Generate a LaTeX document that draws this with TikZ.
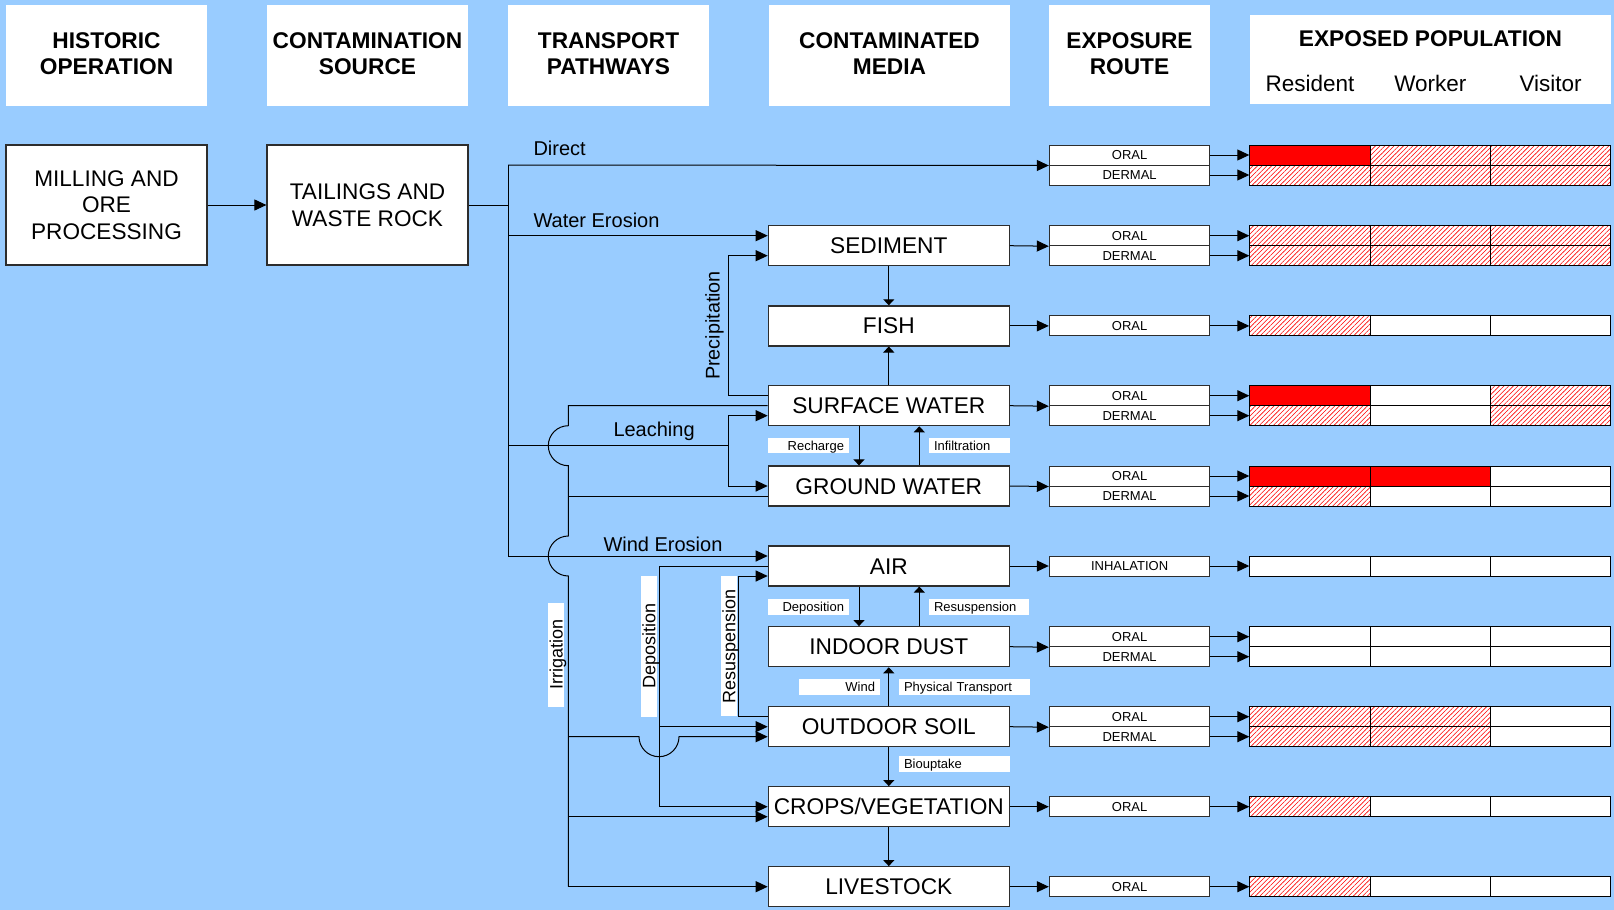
\documentclass[tikz,border=0pt]{standalone}
\usepackage{fontspec}
\setmainfont{Liberation Sans}
\usetikzlibrary{arrows.meta,patterns.meta,calc}
\definecolor{bgblue}{RGB}{153,204,255}
\definecolor{edge}{RGB}{45,45,45}
\begin{document}
\begin{tikzpicture}[x=1pt,y=-1pt,
  hdr/.style={fill=white, inner sep=0pt, align=center, minimum width=201pt, minimum height=101pt, text depth=4pt, font=\bfseries\fontsize{22.7}{26.7}\selectfont},
  srcbox/.style={draw=edge, line width=1.2pt, fill=white, inner sep=0pt, align=center, minimum width=201pt, minimum height=120pt, font=\fontsize{22.6}{26.5}\selectfont},
  media/.style={draw=edge, line width=1.2pt, fill=white, inner sep=0pt, minimum width=241pt, minimum height=40pt, text height=16pt, text depth=0pt, font=\fontsize{22.7}{25}\selectfont},
  route/.style={draw=edge, line width=1pt, fill=white, inner sep=0pt, minimum width=160.6pt, minimum height=20pt, text height=9.3pt, text depth=0pt, font=\fontsize{13}{15}\selectfont},
  cW/.style={draw=black, line width=1pt, fill=white, minimum width=120.33pt, minimum height=20pt, inner sep=0pt},
  cR/.style={cW, fill=red},
  cH/.style={cW, preaction={fill=white}, pattern={Lines[angle=45,distance=3.3pt,line width=0.6pt]}, pattern color=red},
  conn/.style={draw=black, line width=1pt},
  arr/.style={conn, -{Triangle[length=12pt,width=11pt]}},
  varr/.style={conn, -{Triangle[length=6pt,width=11pt]}},
  lbl/.style={inner sep=0pt, anchor=base west, font=\fontsize{20}{22}\selectfont},
  slbl/.style={fill=white, inner ysep=0pt, inner xsep=5pt, minimum height=15.6pt, text height=9.3pt, text depth=0pt, font=\fontsize{13}{15}\selectfont},
  rlbl/.style={fill=white, rotate=90, inner sep=0pt, minimum height=15.7pt, text height=12.9pt, text depth=0pt, font=\fontsize{18}{20}\selectfont}
]
\fill[bgblue] (0,0) rectangle (1614,910);
\useasboundingbox (0,0) rectangle (1614,910);

% headers
\node[hdr] (hHist) at (106.5,55.5) {HISTORIC\\OPERATION};
\node[hdr] (hCont) at (367.5,55.5) {CONTAMINATION\\SOURCE};
\node[hdr] (hTran) at (608.5,55.5) {TRANSPORT\\PATHWAYS};
\node[hdr, minimum width=241pt] (hMed) at (889.5,55.5) {CONTAMINATED\\MEDIA};
\node[hdr, minimum width=161pt] (hRoute) at (1129.5,55.5) {EXPOSURE\\ROUTE};
\node[fill=white, inner sep=0pt, minimum width=361pt, minimum height=89pt] (hPop) at (1430.5,59.5) {};
\node[anchor=base, inner sep=0pt, font=\bfseries\fontsize{22.7}{26.7}\selectfont] (hPopT) at (1430.5,46.7) {EXPOSED POPULATION};
\node[anchor=base, inner sep=0pt, font=\fontsize{22.5}{26}\selectfont] (hRes) at (1310,91.7) {Resident};
\node[anchor=base, inner sep=0pt, font=\fontsize{22.5}{26}\selectfont] (hWrk) at (1430.3,91.7) {Worker};
\node[anchor=base, inner sep=0pt, font=\fontsize{22.5}{26}\selectfont] (hVis) at (1550.6,91.7) {Visitor};

% source boxes
\node[srcbox] (mill) at (106.5,205) {MILLING AND\\ORE\\PROCESSING};
\node[srcbox] (tail) at (367.5,205) {TAILINGS AND\\WASTE ROCK};

% media boxes
\node[media] (sed) at (888.8,245.7) {SEDIMENT};
\node[media] (fish) at (888.8,325.9) {FISH};
\node[media] (sw) at (888.8,405.7) {SURFACE WATER};
\node[media] (gw) at (888.8,486) {GROUND WATER};
\node[media] (air) at (888.8,566) {AIR};
\node[media] (id) at (888.8,646.7) {INDOOR DUST};
\node[media] (os) at (888.8,726.7) {OUTDOOR SOIL};
\node[media] (cr) at (888.8,806.7) {CROPS/VEGETATION};
\node[media] (lv) at (888.8,886.7) {LIVESTOCK};

% exposure routes and population cells
\foreach \nm/\yy/\tx/\pa/\pb/\pc in {
  dirO/155/ORAL/R/H/H, dirD/175/DERMAL/H/H/H,
  sedO/235.7/ORAL/H/H/H, sedD/255.7/DERMAL/H/H/H,
  fishO/325.9/ORAL/H/W/W,
  swO/395.7/ORAL/R/W/H, swD/415.7/DERMAL/H/W/H,
  gwO/476/ORAL/R/R/W, gwD/496/DERMAL/H/W/W,
  airI/566/INHALATION/W/W/W,
  idO/636.7/ORAL/W/W/W, idD/656.7/DERMAL/W/W/W,
  osO/716.7/ORAL/H/H/W, osD/736.7/DERMAL/H/H/W,
  crO/806.7/ORAL/H/W/W,
  lvO/886.7/ORAL/H/W/W}{
  \node[route] (\nm) at (1129.6,\yy) {\tx};
  \node[c\pa] (\nm-1) at (1309.97,\yy) {};
  \node[c\pb] (\nm-2) at (1430.3,\yy) {};
  \node[c\pc] (\nm-3) at (1550.63,\yy) {};
  \draw[arr] (\nm.east) -- (\nm-1.west);
}

% trunk
\coordinate (Ttop) at (508,165);
\coordinate (Tbot) at (508,556);
\draw[arr] (mill.east) -- (tail.west);
\draw[conn] (tail.east) -- (tail.east -| Ttop);
\draw[conn] (Ttop) -- (Tbot);

% direct
\draw[arr] (Ttop) -- (dirO.south west);
% water erosion
\draw[arr] (Ttop |- sedO) -- (sed.west |- sedO);
% precipitation
\coordinate (P) at (728.7,0);
\draw[arr] (sw.west |- swO) -| (P |- sedD) -- (sed.west |- sedD);
% leaching
\coordinate (L) at (728.7,445.7);
\draw[conn] (Ttop |- L) -- (L);
\draw[arr] (L) |- (sw.west |- swD);
\draw[arr] (L) |- (gw.west);
% wind erosion
\draw[arr] (Tbot) -- (air.west |- Tbot);

% irrigation
\coordinate (I0) at (568.3,405.7);
\draw[conn] (sw.west) -- (I0) -- (568.3,425.7)
  .. controls (557.25,425.7) and (548.3,434.65) .. (548.3,445.7)
  .. controls (548.3,456.75) and (557.25,465.7) .. (568.3,465.7)
  -- (568.3,536)
  .. controls (557.25,536) and (548.3,544.95) .. (548.3,556)
  .. controls (548.3,567.05) and (557.25,576) .. (568.3,576)
  -- (568.3,886.7);
\draw[conn] (I0 |- gwD) -- (gw.west |- gwD);
\draw[arr] (I0 |- osD) -- (639,736.7)
  .. controls (639,747.75) and (647.95,756.7) .. (659,756.7)
  .. controls (670.05,756.7) and (679,747.75) .. (679,736.7)
  -- (os.west |- osD);
\draw[arr] (568.3,816.7) -- ([yshift=-10pt]cr.west);
\draw[arr] (I0 |- lv.west) -- (lv.west);

% deposition (left)
\coordinate (D) at (659,566);
\draw[arr] (air.west) -- (D) -- (D |- cr.west) -- (cr.west);
\draw[arr] (D |- os.west) -- (os.west);
% resuspension (left)
\coordinate (R) at (738.7,0);
\draw[arr] (os.west |- osO) -| ([yshift=-10pt]air.west -| R) -- ([yshift=-10pt]air.west);

% vertical media arrows
\draw[varr] (sed.south) -- (fish.north);
\draw[varr] (sw.north) -- (fish.south);
\draw[varr] ([xshift=-29.8pt]sw.south) -- ([xshift=-29.8pt]gw.north);
\draw[varr] ([xshift=30.5pt]gw.north) -- ([xshift=30.5pt]sw.south);
\draw[varr] ([xshift=-29.8pt]air.south) -- ([xshift=-29.8pt]id.north);
\draw[varr] ([xshift=30.5pt]id.north) -- ([xshift=30.5pt]air.south);
\draw[varr] (os.north) -- (id.south);
\draw[varr] (os.south) -- (cr.north);
\draw[varr] (cr.south) -- (lv.north);

% media -> exposure routes
\draw[arr] (sed.east) -- (sedO.south west);
\draw[arr] (fish.east) -- (fishO.west);
\draw[arr] (sw.east) -- (swO.south west);
\draw[arr] (gw.east) -- (gwO.south west);
\draw[arr] (air.east) -- (airI.west);
\draw[arr] (id.east) -- (idO.south west);
\draw[arr] (os.east) -- (osO.south west);
\draw[arr] (cr.east) -- (crO.west);
\draw[arr] (lv.east) -- (lvO.west);

% labels
\node[lbl] (lDirect) at (533.3,155.7) {Direct};
\node[lbl] (lWater) at (533.3,227.3) {Water Erosion};
\node[lbl] (lLeach) at (613.3,436.7) {Leaching};
\node[lbl] (lWindE) at (603.3,551.7) {Wind Erosion};
\node[rotate=90, inner sep=0pt, text height=14pt, text depth=0pt, font=\fontsize{19.8}{22}\selectfont] (lPrec) at (712.7,325.5) {Precipitation};
\node[rlbl, minimum width=104pt] (lIrr) at (556.2,654.7) {Irrigation};
\node[rlbl, minimum width=140.7pt] (lDepV) at (648.8,646.3) {Deposition};
\node[rlbl, minimum width=140pt] (lResV) at (728.8,646) {Resuspension};

\node[slbl, text width=70.7pt, align=right] (lRech) at (808.65,445.5) {Recharge};
\node[slbl, text width=71pt, align=left] (lInf) at (969.5,445.5) {Infiltration};
\node[slbl, text width=70.7pt, align=right] (lDep) at (808.65,607) {Deposition};
\node[slbl, text width=90.3pt, align=left] (lRes) at (979.15,607) {Resuspension};
\node[slbl, text width=71pt, align=right] (lWind) at (839.5,687) {Wind};
\node[slbl, text width=121pt, align=left] (lPhys) at (964.5,687) {Physical Transport};
\node[slbl, text width=101pt, align=left] (lBio) at (954.5,764.2) {Biouptake};
\end{tikzpicture}
\end{document}
